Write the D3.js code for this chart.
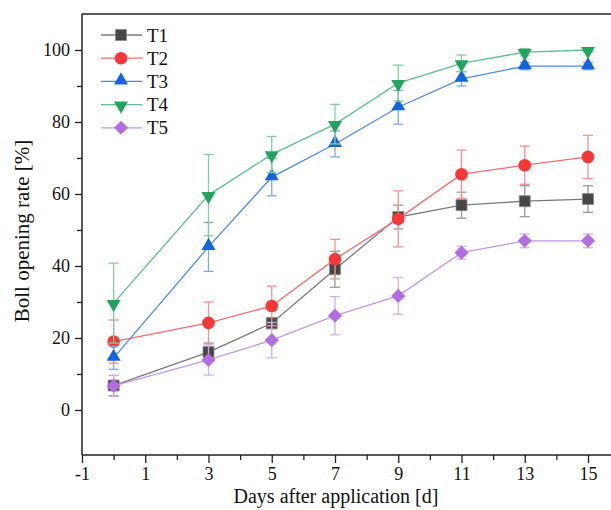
<!DOCTYPE html>
<html><head><meta charset="utf-8">
<script src="https://cdn.jsdelivr.net/npm/d3@7/dist/d3.min.js"></script>
<style>body{margin:0;background:#fff}svg{display:block}text{font-family:"Liberation Serif","Times New Roman",serif;fill:#111}</style>
</head><body><svg id="c" width="611" height="510"></svg>
<script>
const days = [0, 3, 5, 7, 9, 11, 13, 15];
const series = ["T1", "T2", "T3", "T4", "T5"];
const T1 = [6.8, 16.1, 24.1, 39.1, 53.6, 56.9, 58.0, 58.6];
const T1err = [2.8, 2.5, 1.5, 5.0, 3.3, 3.6, 4.3, 3.7];
const T2 = [19.0, 24.2, 28.9, 41.9, 53.1, 65.5, 68.0, 70.3];
const T2err = [6.0, 5.8, 5.5, 5.5, 7.8, 6.7, 5.3, 6.0];
const T3 = [14.5, 45.3, 64.7, 73.9, 84.1, 92.0, 95.5, 95.5];
const T3err = [3.2, 6.8, 5.2, 3.6, 4.7, 2.0, 1.0, 1.0];
const T4 = [29.7, 59.7, 71.0, 79.4, 90.8, 96.3, 99.4, 100.0];
const T4err = [11.1, 11.3, 5.0, 5.5, 5.0, 2.3, 1.0, 0.6];
const T5 = [6.7, 13.9, 19.4, 26.2, 31.7, 43.7, 47.0, 47.0];
const T5err = [2.9, 4.2, 4.9, 5.3, 5.1, 1.8, 1.9, 1.9];
const xTicks = [-1, 1, 3, 5, 7, 9, 11, 13, 15];
const yTicks = [0, 20, 40, 60, 80, 100];

const vals = [T1, T2, T3, T4, T5], errs = [T1err, T2err, T3err, T4err, T5err];
const fills = ["#474747", "#f73838", "#1464e0", "#24a35e", "#b26ee0"];
const lines = ["#7a7a7a", "#f76b6b", "#4d8ae6", "#5cc08a", "#c496e8"];
const ebars = ["#9a9a9a", "#f79090", "#7aa8ee", "#80cfa3", "#d2b0ee"];
const shapes = [d3.symbolSquare, d3.symbolCircle, d3.symbolTriangle, d3.symbolTriangle, d3.symbolSquare];
const sizes = [120, 125, 85, 85, 100];
const rots = [0, 0, 0, 180, 45];
const dy = [0, 0, -1, 1, 0];

const svg = d3.select("#c");
const x = d3.scaleLinear().domain([-1, 15]).range([82, 588]);
const y = d3.scaleLinear().domain([-12.5, 110]).range([455, 14]);

svg.append("line").attr("x1", 82).attr("x2", 611).attr("y1", 14).attr("y2", 14).attr("stroke", "#222").attr("stroke-width", 1.5);

const xa = svg.append("g").attr("transform", "translate(0,455)")
  .call(d3.axisBottom(x).tickValues(xTicks).tickSize(8).tickPadding(4).tickFormat(d => String(d)));
xa.append("g").call(d3.axisBottom(x).tickValues(d3.range(0, 16, 2)).tickSize(5).tickFormat(""));
xa.selectAll(".domain").remove();
svg.append("line").attr("x1", 82).attr("x2", 611).attr("y1", 455).attr("y2", 455).attr("stroke", "#222").attr("stroke-width", 1.5);

const ya = svg.append("g").attr("transform", "translate(82,0)")
  .call(d3.axisLeft(y).tickValues(yTicks).tickSize(7).tickPadding(5));
ya.append("g").call(d3.axisLeft(y).tickValues([10, 30, 50, 70, 90]).tickSize(5).tickFormat(""));
ya.selectAll(".domain").remove();
svg.append("line").attr("x1", 82).attr("x2", 82).attr("y1", 14).attr("y2", 455).attr("stroke", "#222").attr("stroke-width", 1.5);

svg.selectAll(".tick line").attr("stroke", "#222").attr("stroke-width", 1.3);
svg.selectAll(".tick text").style("font-size", "18px").style("font-family", '"Liberation Serif",serif').attr("fill", "#111");

svg.append("text").attr("x", 336).attr("y", 503).attr("text-anchor", "middle").style("font-size", "20px").text("Days after application [d]");
svg.append("text").attr("transform", "translate(29,231) rotate(-90)").attr("text-anchor", "middle").style("font-size", "21px").text("Boll opening rate [%]");

const line = d3.line().x((d, i) => x(days[i])).y(d => y(d));
series.forEach((s, k) => {
  const g = svg.append("g");
  days.forEach((d, i) => {
    const v = vals[k][i], e = errs[k][i];
    g.append("line").attr("x1", x(d)).attr("x2", x(d)).attr("y1", y(v - e)).attr("y2", y(v + e)).attr("stroke", ebars[k]).attr("stroke-width", 1.3);
    [v - e, v + e].forEach(t => g.append("line").attr("x1", x(d) - 5).attr("x2", x(d) + 5).attr("y1", y(t)).attr("y2", y(t)).attr("stroke", ebars[k]).attr("stroke-width", 1.3));
  });
  g.append("path").attr("d", line(vals[k])).attr("fill", "none").attr("stroke", lines[k]).attr("stroke-width", 1.3);
  g.selectAll("path.m").data(vals[k]).enter().append("path").attr("class", "m")
    .attr("d", d3.symbol().type(shapes[k]).size(sizes[k]))
    .attr("transform", (d, i) => `translate(${x(days[i])},${y(d) + dy[k]}) rotate(${rots[k]})`)
    .attr("fill", fills[k]).attr("stroke", k === 0 ? "#888" : "none").attr("stroke-width", 0.8);
});

const leg = svg.append("g");
series.forEach((s, k) => {
  const yy = 35 + k * 23.2;
  leg.append("line").attr("x1", 101).attr("x2", 142).attr("y1", yy).attr("y2", yy).attr("stroke", lines[k]).attr("stroke-width", 1.3);
  leg.append("path").attr("d", d3.symbol().type(shapes[k]).size(sizes[k]))
    .attr("transform", `translate(121,${yy + dy[k]}) rotate(${rots[k]})`).attr("fill", fills[k]).attr("stroke", k === 0 ? "#888" : "none").attr("stroke-width", 0.8);
  leg.append("text").attr("x", 147).attr("y", yy + 6.5).style("font-size", "19px").text(s);
});
</script></body></html>
